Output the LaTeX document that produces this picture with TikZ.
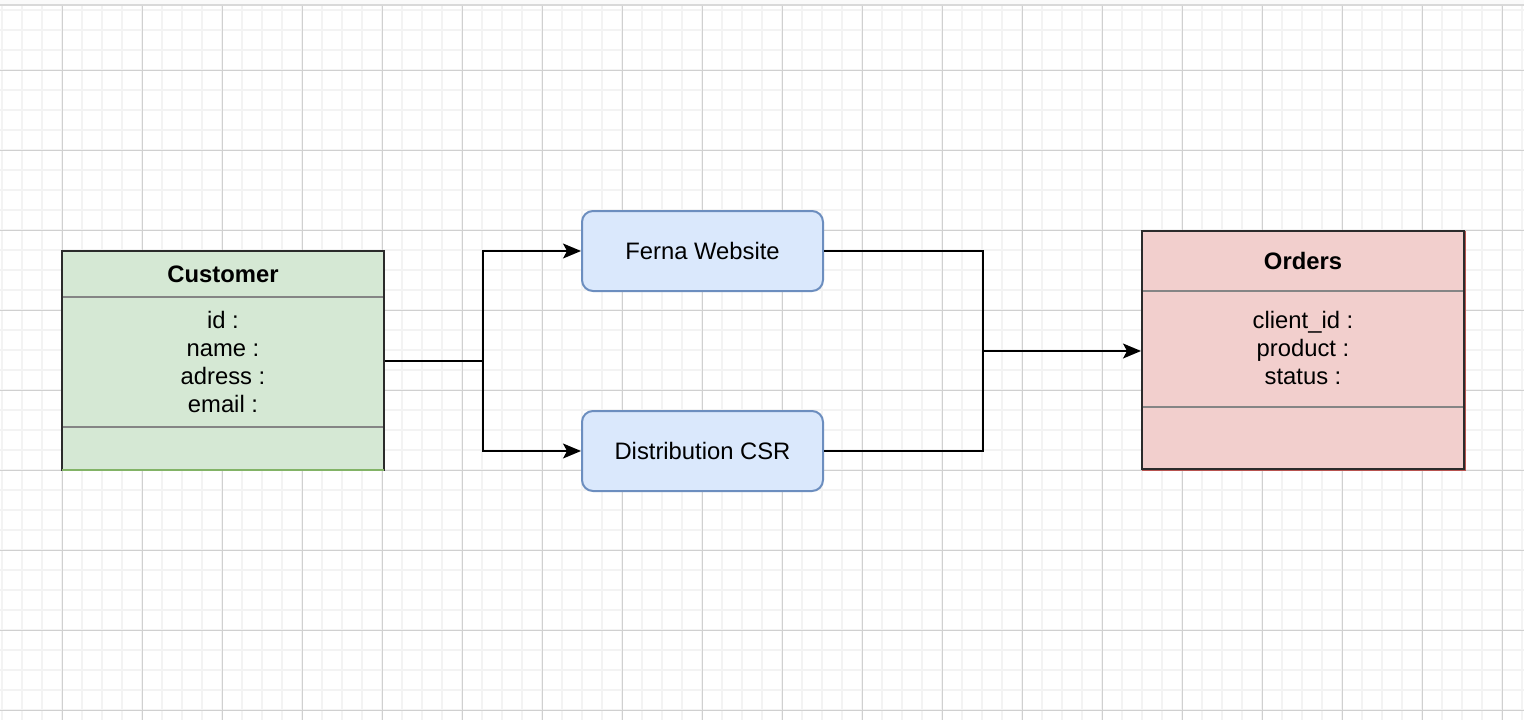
\documentclass[tikz,border=0pt]{standalone}
\usepackage{fontspec}
\setmainfont{Liberation Sans}
\usetikzlibrary{arrows.meta}
\definecolor{gminor}{HTML}{F3F3F3}
\definecolor{gmajor}{HTML}{D0D0D0}
\definecolor{custfill}{HTML}{D5E8D4}
\definecolor{custedge}{HTML}{82B366}
\definecolor{ordfill}{HTML}{F2CFCD}
\definecolor{ordedge}{HTML}{B85450}
\definecolor{procfill}{HTML}{DAE8FC}
\definecolor{procedge}{HTML}{6C8EBF}
\definecolor{frame}{HTML}{2B2B2B}
\definecolor{divgray}{HTML}{858585}
\tikzset{
  txt/.style={font=\fontsize{23.8}{28}\selectfont, inner sep=0pt, align=center},
  classbox/.style={draw=frame, line width=2pt, inner sep=0pt},
  procbox/.style={draw=procedge, fill=procfill, line width=2pt, rounded corners=11pt,
    minimum width=241pt, minimum height=80pt, inner sep=0pt,
    font=\fontsize{23.8}{28}\selectfont},
  divline/.style={draw=divgray, line width=2pt},
  conn/.style={draw=black, line width=1.6pt},
  arr/.style={conn, -{Stealth[length=18pt,width=15pt,inset=4pt]}}
}
\begin{document}
\begin{tikzpicture}[x=1pt,y=-1pt]
\useasboundingbox (0,0) rectangle (1524,720);
% background and grid
\fill[white] (0,0) rectangle (1524,720);
\fill[black!2] (0,0) rectangle (1524,5);
\foreach \x in {2,22,...,1522} \draw[gminor, line width=1.8pt] (\x,6) -- (\x,720);
\foreach \y in {10,30,...,710} \draw[gminor, line width=1.8pt] (0,\y) -- (1524,\y);
\foreach \x in {62,142,...,1502} \draw[gmajor, line width=1pt] (\x,6) -- (\x,720);
\foreach \y in {70,150,...,710} \draw[gmajor, line width=1pt] (0,\y) -- (1524,\y);
\draw[black!15, line width=1.5pt] (0,5) -- (1524,5);

% Customer class
\node[classbox, fill=custfill, minimum width=322pt, minimum height=219pt] (cust) at (223,360.5) {};
\draw[divline] (63,297) -- (383,297);
\draw[divline] (63,427) -- (383,427);
\draw[custedge, line width=2pt] (62,470) -- (384,470);
\node[txt, font=\bfseries\fontsize{23.8}{28}\selectfont] (custt) at (223,274) {Customer};
\node[txt] (custf) at (223,362) {id :\\name :\\adress :\\email :};

% Orders class
\node[classbox, fill=ordfill, minimum width=322pt, minimum height=238pt] (ord) at (1303,350) {};
\draw[divline] (1143,291) -- (1463,291);
\draw[divline] (1143,407) -- (1463,407);
\draw[ordedge, line width=1.5pt] (1142,470.5) -- (1465.5,470.5) -- (1465.5,231);
\node[txt, font=\bfseries\fontsize{23.8}{28}\selectfont] (ordt) at (1303,261) {Orders};
\node[txt] (ordf) at (1303,348) {client\_id :\\product :\\status :};

% processes
\node[procbox] (web) at (702.5,251) {Ferna Website};
\node[procbox] (csr) at (702.5,451) {Distribution CSR};

% connectors
\coordinate (j1) at (483,361);
\coordinate (j2) at (983,351);
\draw[conn] (cust.east |- j1) -- (j1);
\draw[arr] (j1) |- (web.west);
\draw[arr] (j1) |- (csr.west);
\draw[conn] (web.east) -| (j2);
\draw[conn] (csr.east) -| (j2);
\draw[arr] (j2) -- (ord.west |- j2);
\end{tikzpicture}
\end{document}
